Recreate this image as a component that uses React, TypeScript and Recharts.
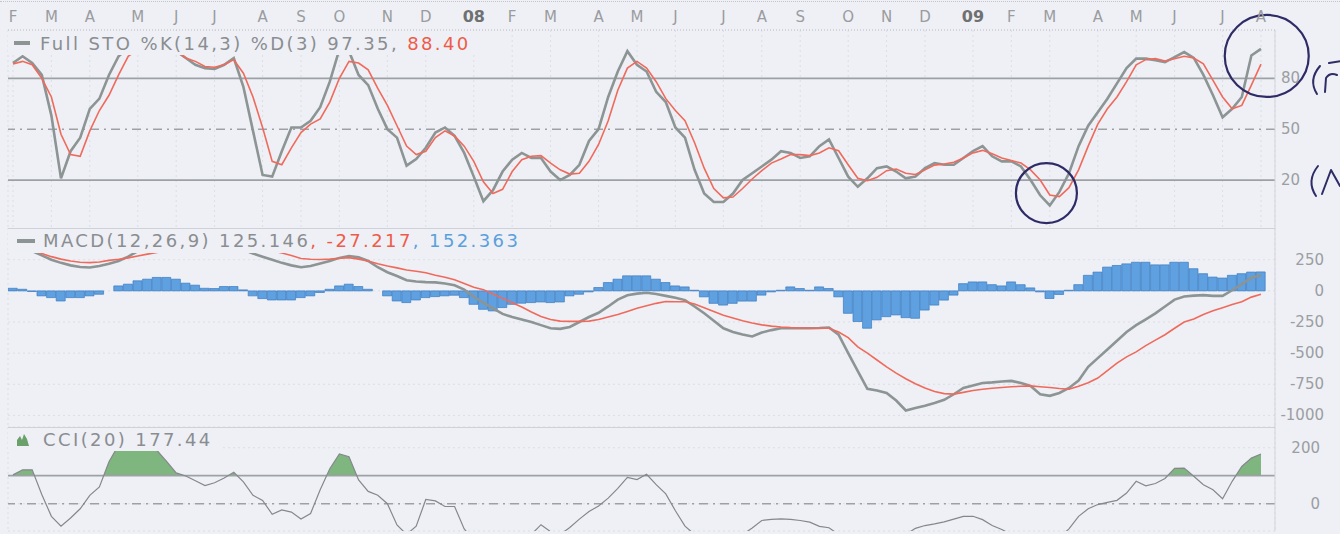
import React from "react";
import {
  ComposedChart,
  Line,
  Bar,
  Area,
  XAxis,
  YAxis,
  CartesianGrid,
  ReferenceLine,
  ReferenceDot,
} from "recharts";

// weekly bars, week 0 = first week of Feb 2007
const monthLabels = [
  "F", "M", "A", "M", "J", "J", "A", "S", "O", "N", "D",
  "08", "F", "M", "A", "M", "J", "J", "A", "S", "O", "N", "D",
  "09", "F", "M", "A", "M", "J", "J", "A",
];
const monthStarts = [
  0, 4, 8, 13, 17, 21, 26, 30, 34, 39, 43,
  48, 52, 56, 61, 65, 69, 74, 78, 82, 87, 91, 95,
  100, 104, 108, 113, 117, 121, 126, 130,
];

const stoK = [
  89, 93, 89, 82, 58, 21, 37, 45, 62, 68,
  82, 93, 98, 99, 98, 99, 99, 96, 92, 88,
  86, 85.5, 88, 92, 75, 49, 23, 22, 37, 51,
  51, 55, 63, 78, 97, 96, 82, 76, 62, 50,
  45, 28.5, 32.4, 39, 48, 51, 46, 36, 22, 7.5,
  14, 25, 32, 36, 33, 33, 25, 20, 23, 29,
  43, 50, 69, 84, 96, 88, 84, 72, 66, 51,
  45, 26, 12, 7, 7, 12, 20, 24, 28, 32,
  37, 36, 33, 34, 40, 44, 33, 22, 16, 21,
  27, 28, 25, 21, 22, 27, 30, 29, 29, 33,
  37, 40, 34, 31, 31, 28, 20, 11, 5, 13,
  24, 40, 52, 60, 68, 77, 86, 91.6, 91.6, 90.6,
  89.6, 92.5, 95.5, 92, 82, 70, 57, 62, 69, 93.5,
  97.35,
];

const stoD = [
  88.5, 90, 88, 80, 69, 47, 35, 34, 49, 61,
  70, 82, 93, 97, 98, 99, 98, 96, 92, 90,
  87, 86.5, 88, 91, 83, 69, 51, 31, 29, 39,
  48, 53, 56, 66, 80, 90, 89, 85, 74, 64,
  52, 40, 35, 37, 45, 49, 46, 40, 31, 19,
  12, 14.5, 25, 32, 34, 34.4, 30, 26, 23.5, 24,
  31, 41, 55, 73, 86, 90, 86, 78, 68, 61,
  55, 42, 27, 15, 9.5, 10, 15, 20.6, 25.5, 30,
  32.4, 35, 35, 34.4, 36, 39, 37.3, 29, 21, 19.6,
  21.6, 25.5, 26.5, 24, 23.3, 26, 28.8, 29.5, 30.5, 33,
  36, 37.5, 35.5, 33, 31.5, 30, 26, 20, 11.2, 10.2,
  15.5, 26, 40, 53, 62, 69, 78, 88, 91, 91.6,
  90.2, 91.5, 93, 92, 88.6, 78.8, 69, 62, 64, 76,
  88.4,
];

const macdLine = [
  400, 370, 320, 285, 250, 225, 205, 192, 188, 200,
  218, 240, 275, 320, 370, 410, 440, 455, 455, 445,
  430, 410, 390, 365, 330, 300, 275, 250, 225, 205,
  190, 200, 220, 240, 265, 280, 270, 240, 190, 150,
  120, 85, 75, 70, 68, 60, 45, 10, -45, -95,
  -140, -185, -210, -230, -250, -275, -300, -305, -290, -250,
  -210, -176, -125, -70, -35, -22, -15, -25, -40, -55,
  -74, -125, -180, -240, -300, -330, -350, -366, -335, -315,
  -300, -300, -300, -300, -298, -294, -352, -500, -644, -787,
  -800, -820, -880, -960, -940, -922, -900, -875, -830, -780,
  -760, -740, -735, -728, -723, -740, -763, -830, -843, -820,
  -780, -720, -610, -540, -470, -400, -330, -275, -228, -180,
  -125, -70, -45, -38, -34, -40, -40, 5, 55, 105,
  125.146,
];

const macdSignal = [
  380, 355, 325, 300, 275, 255, 240, 230, 227, 232,
  245, 254, 265, 280, 295, 308, 330, 355, 375, 390,
  400, 400, 395, 385, 370, 350, 335, 320, 305, 285,
  260, 254, 252, 255, 262, 267, 255, 240, 218, 200,
  185, 168, 158, 145, 125, 110, 90, 60, 30, 10,
  -25, -60, -95, -130, -170, -205, -230, -243, -245, -245,
  -243, -230, -210, -190, -165, -140, -120, -100, -85, -87,
  -87, -105, -135, -165, -195, -218, -240, -258, -273, -283,
  -290, -295, -298, -300, -300, -300, -330, -375, -450, -500,
  -555, -610, -660, -705, -745, -780, -808, -825, -829, -815,
  -800, -790, -782, -776, -770, -766, -763, -770, -776, -784,
  -790, -765, -737, -700, -640, -580, -530, -490, -440, -395,
  -352, -300, -250, -225, -190, -160, -135, -110, -87, -50,
  -27.217,
];

const macdHist = [
  21, 13, -5, -40, -54, -81, -54, -54, -40, -27,
  0, 40, 54, 81, 94, 108, 108, 94, 62, 46,
  21, 19, 35, 35, 8, -40, -62, -73, -73, -73,
  -54, -40, -13, 13, 40, 54, 35, 13, 0, -40,
  -81, -94, -73, -54, -46, -40, -35, -54, -108, -148,
  -161, -134, -108, -99, -94, -89, -94, -89, -40, -27,
  -8, 27, 67, 94, 121, 121, 121, 94, 67, 40,
  32, 5, -48, -100, -114, -100, -82, -82, -34, -8,
  5, 32, 19, 5, 32, 19, -48, -180, -246, -300,
  -233, -207, -193, -215, -220, -154, -114, -74, -34, 58,
  72, 72, 50, 40, 72, 50, 24, -8, -61, -29,
  5, 50, 125, 151, 191, 204, 217, 230, 230, 209,
  209, 230, 230, 178, 138, 111, 103, 125, 138, 151,
  152.363,
];

const cci = [
  103, 121, 121, 33, -45, -80, -51, -18, 30, 60,
  150, 210, 230, 230, 215, 190, 151, 110, 99, 82,
  65, 75, 92, 112, 78, 30, 12, -38, -22, -30,
  -55, -35, 50, 125, 178, 168, 85, 44, 30, 0,
  -76, -110, -80, 15, 10, -10, -10, -90, -130, -150,
  -170, -160, -140, -130, -110, -75, -100, -110, -85, -55,
  -28, -8, 20, 55, 94, 86, 105, 68, 35, -25,
  -80, -110, -140, -160, -150, -130, -110, -87, -60, -56,
  -54, -56, -60, -66, -81, -86, -110, -140, -170, -180,
  -175, -160, -140, -110, -88, -78, -72, -65, -55, -45,
  -45, -57, -78, -92, -110, -130, -150, -160, -150, -120,
  -90, -45, -18, -3, 5, 12, 38, 80, 64, 72,
  90, 126, 127, 98, 68, 50, 18, 80, 133, 163,
  177.44,
];

const stoTicks = [20, 50, 80];
const macdTicks = [250, 0, -250, -500, -750, -1000];
const cciTicks = [200, 0];

const rows = stoK.map((k, i) => ({
  i,
  k,
  d: stoD[i],
  macd: macdLine[i],
  signal: macdSignal[i],
  hist: macdHist[i],
  cci: cci[i],
}));

const cciMax = Math.max(...cci);
const cciMin = Math.min(...cci);
const cciSplit = (cciMax - 100) / (cciMax - cciMin);

const BG = "#eef0f5";
const FONT = '"DejaVu Sans", Verdana, sans-serif';
const GRAY_LINE = "#8c9494";
const RED_LINE = "#f06a5c";
const LEVEL = "#9da1a5";
const GRID = "#dcdee6";
const INK = "#2f2b66";
const TEXT = "#8a8d91";
const X_DOMAIN: [number, number] = [-0.52, 131.46];

if (typeof document !== "undefined") {
  document.body.style.margin = "0";
  document.body.style.background = BG;
}

function MonthTick(props: any) {
  const { x, y, payload } = props;
  const label = monthLabels[monthStarts.indexOf(payload.value)] ?? "";
  const isYear = /\d/.test(label);
  return (
    <text
      x={x}
      y={y}
      textAnchor="middle"
      fontFamily={FONT}
      fontSize={isYear ? 16 : 15}
      fontWeight={isYear ? "bold" : "normal"}
      fill={isYear ? "#6e7072" : "#9a9c9f"}
    >
      {label}
    </text>
  );
}

const sideTick = (anchor: "start" | "end", dx: number) => (props: any) => (
  <text
    x={props.x + dx}
    y={props.y}
    dy={5}
    textAnchor={anchor}
    fontFamily={FONT}
    fontSize={15}
    fill="#9b9ea2"
  >
    {props.payload.value}
  </text>
);

const ring = (rx: number, ry: number) => (props: any) => (
  <ellipse cx={props.cx} cy={props.cy} rx={rx} ry={ry} fill="none" stroke={INK} strokeWidth={2.2} />
);

const hiddenX = (
  <XAxis
    dataKey="i"
    type="number"
    domain={X_DOMAIN}
    ticks={monthStarts}
    interval={0}
    height={0}
    tick={false}
    tickLine={false}
    axisLine={false}
    allowDataOverflow
  />
);

function StoPanel() {
  return (
    <ComposedChart width={1340} height={228} data={rows} margin={{ top: 0, right: 0, bottom: 0, left: 8 }}>
      <CartesianGrid stroke={GRID} strokeDasharray="2 3" horizontal={false} />
      <XAxis
        dataKey="i"
        type="number"
        orientation="top"
        domain={X_DOMAIN}
        ticks={monthStarts}
        interval={0}
        height={30}
        tickSize={0}
        tickMargin={8}
        tickLine={false}
        axisLine={{ stroke: "#b6b9c2", strokeDasharray: "1 2" }}
        tick={MonthTick}
        allowDataOverflow
      />
      <YAxis
        orientation="right"
        type="number"
        domain={[-8.3, 108.5]}
        ticks={stoTicks}
        interval={0}
        width={65}
        tickSize={0}
        tickMargin={0}
        tickLine={false}
        axisLine={{ stroke: "#d3d5dc" }}
        tick={sideTick("start", 6)}
        allowDataOverflow
      />
      <ReferenceLine y={80} stroke={LEVEL} strokeWidth={1.8} />
      <ReferenceLine y={20} stroke={LEVEL} strokeWidth={1.8} />
      <ReferenceLine y={50} stroke={LEVEL} strokeWidth={1.5} strokeDasharray="9 5 2 5" />
      <Line type="linear" dataKey="k" stroke={GRAY_LINE} strokeWidth={2.6} dot={false} activeDot={false} isAnimationActive={false} />
      <Line type="linear" dataKey="d" stroke={RED_LINE} strokeWidth={1.6} dot={false} activeDot={false} isAnimationActive={false} />
      <ReferenceDot x={107.65} y={12.3} r={30} ifOverflow="visible" shape={ring(30.5, 30)} />
      <ReferenceDot x={130.6} y={93.2} r={41} ifOverflow="visible" shape={ring(42, 41)} />
    </ComposedChart>
  );
}

function MacdPanel() {
  return (
    <ComposedChart width={1340} height={199} data={rows} margin={{ top: 0, right: 0, bottom: 0, left: 8 }}>
      <CartesianGrid stroke={GRID} strokeDasharray="2 3" />
      {hiddenX}
      <YAxis
        orientation="right"
        type="number"
        domain={[-1093, 505]}
        ticks={macdTicks}
        interval={0}
        width={65}
        tickSize={0}
        tickMargin={0}
        tickLine={false}
        axisLine={{ stroke: "#d3d5dc" }}
        tick={sideTick("end", 49)}
        allowDataOverflow
      />
      <Bar dataKey="hist" fill="#5fa0e0" stroke="#3b7bc2" strokeWidth={0.7} barSize={9} isAnimationActive={false} />
      <Line type="linear" dataKey="macd" stroke={GRAY_LINE} strokeWidth={2.6} dot={false} activeDot={false} isAnimationActive={false} />
      <Line type="linear" dataKey="signal" stroke={RED_LINE} strokeWidth={1.6} dot={false} activeDot={false} isAnimationActive={false} />
    </ComposedChart>
  );
}

function CciPanel() {
  return (
    <ComposedChart width={1340} height={107} data={rows} margin={{ top: 0, right: 0, bottom: 3, left: 8 }}>
      <defs>
        <linearGradient id="cciFill" x1="0" y1="0" x2="0" y2="1">
          <stop offset={0} stopColor="#7fb57f" stopOpacity={1} />
          <stop offset={cciSplit} stopColor="#7fb57f" stopOpacity={1} />
          <stop offset={cciSplit} stopColor="#7fb57f" stopOpacity={0} />
          <stop offset={1} stopColor="#7fb57f" stopOpacity={0} />
        </linearGradient>
      </defs>
      <CartesianGrid stroke={GRID} strokeDasharray="2 3" />
      {hiddenX}
      <YAxis
        orientation="right"
        type="number"
        domain={[-97.5, 274]}
        ticks={cciTicks}
        interval={0}
        width={65}
        tickSize={0}
        tickMargin={0}
        tickLine={false}
        axisLine={{ stroke: "#d3d5dc" }}
        tick={sideTick("end", 45)}
        allowDataOverflow
      />
      <Area type="linear" dataKey="cci" baseValue={100} fill="url(#cciFill)" fillOpacity={1} stroke="none" dot={false} activeDot={false} isAnimationActive={false} />
      <ReferenceLine y={100} stroke={LEVEL} strokeWidth={1.8} />
      <ReferenceLine y={0} stroke={LEVEL} strokeWidth={1.5} strokeDasharray="9 5 2 5" />
      <Line type="linear" dataKey="cci" stroke="#85888b" strokeWidth={1.2} dot={false} activeDot={false} isAnimationActive={false} />
    </ComposedChart>
  );
}

const legendFont: React.CSSProperties = {
  position: "absolute",
  fontFamily: FONT,
  fontSize: 18,
  letterSpacing: 2.4,
  lineHeight: "21px",
  color: TEXT,
  whiteSpace: "nowrap",
};

const box = (left: number, top: number, width: number, height: number): React.CSSProperties => ({
  position: "absolute",
  left,
  top,
  width,
  height,
  background: BG,
});

export default function App() {
  return (
    <div style={{ position: "relative", width: 1340, height: 534, background: BG, overflow: "hidden" }}>
      <div style={{ position: "absolute", left: 0, top: 1, width: 1340, borderTop: "1px dotted #c3c5cc" }} />
      <div style={{ position: "absolute", left: 0, top: 0 }}>
        <StoPanel />
      </div>
      <div style={{ position: "absolute", left: 0, top: 228 }}>
        <MacdPanel />
      </div>
      <div style={{ position: "absolute", left: 0, top: 427 }}>
        <CciPanel />
      </div>
      <div style={{ position: "absolute", left: 8, top: 228, width: 1267, height: 1, background: "#cfd1d8" }} />
      <div style={{ position: "absolute", left: 8, top: 427, width: 1267, height: 1, background: "#cfd1d8" }} />

      <div style={box(8, 31, 472, 24)} />
      <div style={{ position: "absolute", left: 14, top: 41, width: 16, height: 4, background: GRAY_LINE }} />
      <div style={{ ...legendFont, left: 40, top: 33 }}>
        Full STO %K(14,3) %D(3) 97.35, <span style={{ color: "#ef5b4b" }}>88.40</span>
      </div>

      <div style={box(8, 229, 515, 24)} />
      <div style={{ position: "absolute", left: 17, top: 239, width: 18, height: 4, background: GRAY_LINE }} />
      <div style={{ ...legendFont, left: 43, top: 230 }}>
        MACD(12,26,9) 125.146<span style={{ color: "#ef5b4b" }}>, -27.217</span>
        <span style={{ color: "#5aa0dc" }}>, 152.363</span>
      </div>

      <div style={box(8, 428, 212, 23)} />
      <svg style={{ position: "absolute", left: 17, top: 434 }} width={12} height={12}>
        <path d="M0,12 L0,6 L3,2 L5,6 L7,0 L10,5 L12,12 Z" fill="#6aa06a" />
      </svg>
      <div style={{ ...legendFont, left: 43, top: 429 }}>CCI(20) 177.44</div>

      <svg style={{ position: "absolute", left: 0, top: 0, pointerEvents: "none" }} width={1340} height={534}>
        <g fill="none" stroke={INK} strokeWidth={2} strokeLinecap="round" strokeLinejoin="round">
          <path d="M1320,66 Q1308,80 1317,94" />
          <path d="M1325,92 L1326,78 Q1330,72 1337,75" />
          <path d="M1329,63 L1341,61" />
          <path d="M1318,166 Q1306,181 1316,196" />
          <path d="M1322,194 L1331,170 L1340,186" />
        </g>
      </svg>
    </div>
  );
}
